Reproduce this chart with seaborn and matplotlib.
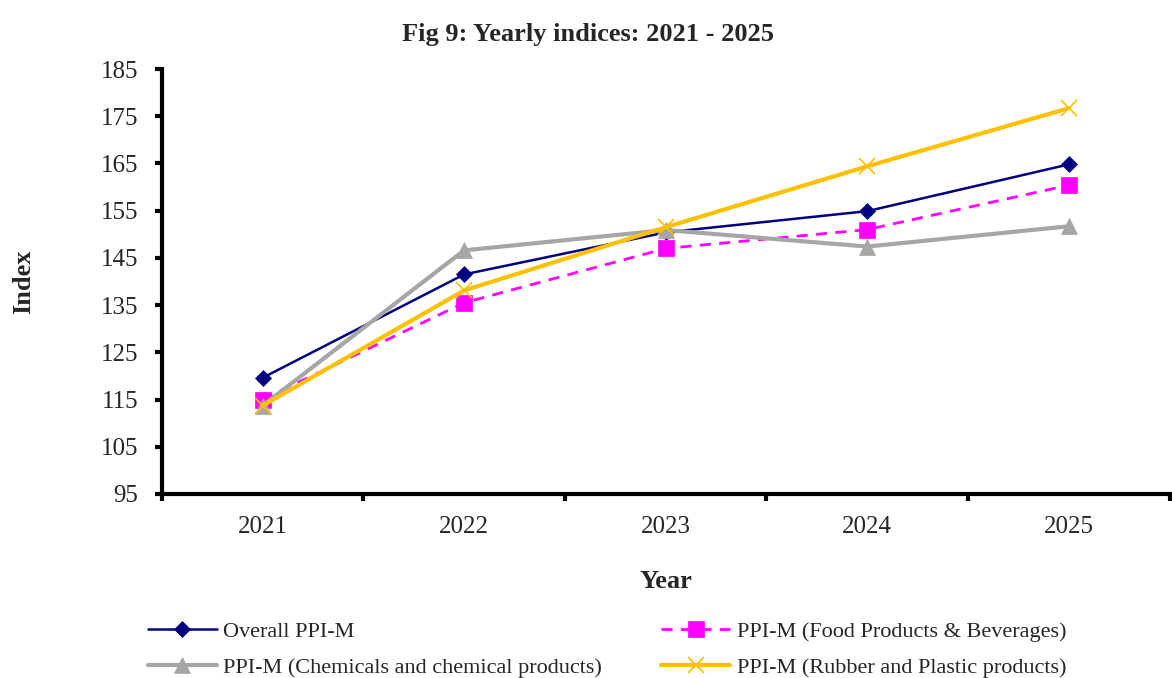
import matplotlib
matplotlib.use("Agg")
import numpy as np
import pandas as pd
import matplotlib.pyplot as plt
import seaborn as sns

# valeurs
years = ["2021", "2022", "2023", "2024", "2025"]
overall = [119.6, 141.5, 150.4, 154.9, 164.8]
food = [115.0, 135.5, 147.0, 151.0, 160.4]
chem = [113.7, 146.6, 150.9, 147.4, 151.7]
rubber = [113.7, 138.1, 151.5, 164.4, 176.7]

labels = ["Overall PPI-M",
          "PPI-M (Food Products & Beverages)",
          "PPI-M (Chemicals and chemical products)",
          "PPI-M (Rubber and Plastic products)"]

sns.set_style("white")
plt.rcParams['font.family'] = ['Liberation Serif', 'DejaVu Serif']

fig = plt.figure(figsize=(11.72, 6.78), dpi=100)
ax = fig.add_axes([0.138, 0.2714, 0.860, 0.6268])

pos = np.arange(len(years))
styles = [
    (overall, labels[0], "#000080", "-", "D", 8, 1.8),
    (food, labels[1], "#FF00FF", (0, (4, 3)), "s", 11, 2.0),
    (chem, labels[2], "#A6A6A6", "-", "^", 12, 3.0),
    (rubber, labels[3], "#FFC000", "-", "x", 12, 3.0),
]
handles = {}
for vals, lab, col, ls, mk, ms, lw in styles:
    df = pd.DataFrame({"x": pos, "y": vals})
    sns.lineplot(data=df, x="x", y="y", ax=ax, color=col, linestyle=ls, linewidth=lw,
                 marker=mk, markersize=ms, markeredgecolor=col,
                 markeredgewidth=1.2 if mk == "x" else 0.5, label=lab, legend=False)
    handles[lab] = ax.lines[-1]

ax.set_xlim(-0.5, len(years) - 0.5)
ax.set_ylim(95, 185)
ax.set_yticks(np.arange(95, 186, 10))
ax.set_xticks(pos)
ax.set_xticklabels(years)
ax.set_xticks(np.arange(-0.5, len(years)), minor=True)
ax.tick_params(axis="x", which="major", length=0, labelsize=18, pad=16)
ax.tick_params(axis="x", which="minor", bottom=True, length=5, width=3, direction="out", color="black")
ax.tick_params(axis="y", length=5, width=3, direction="out", color="black", labelsize=18, left=True, pad=12)

for s in ["top", "right"]:
    ax.spines[s].set_visible(False)
for s in ["left", "bottom"]:
    ax.spines[s].set_linewidth(3)
    ax.spines[s].set_color("black")

ax.set_xlabel("Year", fontsize=19, fontweight="bold", labelpad=23)
ax.set_ylabel("Index", fontsize=19, fontweight="bold", labelpad=47)
fig.suptitle("Fig 9: Yearly indices: 2021 - 2025", fontsize=19, fontweight="bold",
             x=0.502, y=0.949, va="center")

order = [labels[0], labels[2], labels[1], labels[3]]
fig.legend([handles[l] for l in order], order, ncol=2, loc="upper left",
           bbox_to_anchor=(0.109, 0.113), frameon=False, fontsize=16,
           handlelength=3.1, columnspacing=2.65, labelspacing=0.7, handletextpad=0.3)

fig.savefig("out.png", dpi=100)
